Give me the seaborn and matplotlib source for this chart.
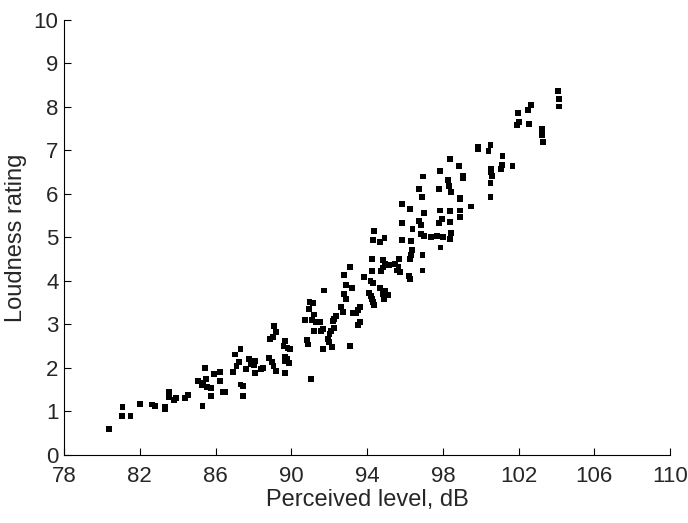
import matplotlib
matplotlib.use("Agg")
import matplotlib.pyplot as plt
import seaborn as sns
import pandas as pd

# perceived level (dB) and loudness rating
level = [
    80.40, 81.09, 81.06, 81.51, 82.01, 82.66, 82.82, 83.31, 83.35, 83.55, 83.55, 83.79, 83.93, 84.41, 84.57,
    85.06, 85.27, 85.35, 85.31, 85.77, 85.77, 85.56, 85.52, 85.45, 85.91,
    86.23, 86.26, 86.37, 86.48, 86.90, 87.11, 87.25, 87.04, 87.32, 87.32,
    87.43, 87.43, 87.60, 87.78, 87.85, 88.07, 88.03, 88.10, 88.38, 88.52,
    88.84, 88.98, 89.06, 89.20, 88.86, 89.03, 89.21, 89.11,
    89.69, 89.59, 89.80, 89.94, 89.66, 89.80, 89.69, 89.90, 89.69,
    93.08, 92.76, 93.86, 94.28, 94.74, 94.85, 94.95, 95.17, 94.18, 94.32,
    92.87, 93.19, 91.74, 94.67, 94.95, 95.13, 94.85, 94.88, 94.10, 94.21,
    94.28, 94.32, 94.35, 92.80, 92.87, 90.96, 91.17, 90.93, 92.62, 92.72,
    93.65, 93.51, 93.40, 93.26, 91.21, 90.72, 91.10, 91.28, 91.53, 92.34,
    92.24, 92.20, 92.27, 93.65, 93.51, 91.21, 91.56, 91.67, 92.09, 92.02,
    91.95, 91.99, 90.82, 90.86, 91.67, 92.13, 93.12, 91.03,
    94.37, 94.33, 94.69, 94.92, 94.27, 94.85,
    96.97, 97.85, 98.27, 98.34, 98.45, 98.91, 96.72, 96.90, 97.81, 95.84,
    96.29, 97.00, 97.85, 98.38, 98.91, 97.95, 98.91, 95.84, 96.75, 96.86,
    96.40, 97.81, 98.38, 96.83, 97.00, 97.36, 97.71, 97.99, 98.38, 98.45,
    95.84, 96.33, 97.88, 96.37, 96.33, 96.29, 96.93, 95.69, 95.48, 95.66,
    95.59, 95.73, 96.22, 96.29, 96.93,
    98.40, 98.85, 99.07, 99.07,
    99.88, 99.85, 100.52, 100.41, 101.15, 101.11, 101.08, 101.68,
    100.55, 100.55, 100.58, 100.52, 98.93, 100.52, 99.49,
    102.65, 102.51, 101.98, 102.01, 101.91, 102.55, 103.25, 103.25, 103.29, 104.10, 104.14, 104.14,
]
rating = [
    0.60, 1.10, 0.89, 0.90, 1.17, 1.16, 1.13, 1.11, 1.06, 1.45, 1.33, 1.26, 1.31, 1.31, 1.37,
    1.71, 1.60, 1.65, 1.13, 1.36, 1.53, 1.57, 1.74, 2.00, 1.86,
    1.91, 1.71, 1.45, 1.45, 1.91, 2.05, 2.14, 2.31, 2.44, 1.62,
    1.59, 1.36, 1.98, 2.20, 2.08, 2.17, 2.06, 1.88, 1.98, 2.00,
    2.23, 2.14, 2.05, 1.94, 2.66, 2.72, 2.82, 2.96,
    2.61, 2.51, 2.46, 2.44, 2.26, 2.21, 2.15, 2.12, 1.89,
    4.33, 4.13, 4.09, 4.22, 4.22, 4.31, 4.39, 4.37, 3.99, 3.95,
    3.90, 3.84, 3.78, 3.84, 3.78, 3.67, 3.69, 3.58, 3.73, 3.66,
    3.59, 3.52, 3.44, 3.69, 3.58, 3.52, 3.50, 3.35, 3.40, 3.29,
    3.40, 3.33, 3.27, 3.26, 3.23, 3.10, 3.10, 3.06, 3.06, 3.20,
    3.12, 3.07, 2.92, 3.06, 2.98, 2.84, 2.86, 2.89, 2.84, 2.78,
    2.67, 2.60, 2.64, 2.54, 2.43, 2.48, 2.51, 1.75,
    5.14, 4.94, 4.90, 4.99, 4.51, 4.48,
    6.40, 6.52, 6.31, 6.18, 6.05, 5.89, 6.12, 5.92, 6.12, 5.77,
    5.65, 5.56, 5.62, 5.60, 5.62, 5.43, 5.46, 5.34, 5.37, 5.28,
    5.20, 5.33, 5.36, 5.08, 5.03, 5.02, 5.03, 5.00, 4.97, 5.10,
    4.94, 4.91, 4.77, 4.71, 4.59, 4.51, 4.59, 4.51, 4.39, 4.33,
    4.24, 4.21, 4.12, 4.05, 4.24,
    6.80, 6.64, 6.42, 6.36,
    7.09, 7.04, 7.13, 6.98, 6.87, 6.67, 6.57, 6.64,
    6.58, 6.51, 6.41, 6.25, 5.91, 5.92, 5.71,
    8.04, 7.93, 7.85, 7.66, 7.58, 7.61, 7.50, 7.35, 7.20, 8.36, 8.18, 8.01,
]

x_ticks = [78, 82, 86, 90, 94, 98, 102, 106, 110]
y_ticks = list(range(0, 11))

df = pd.DataFrame({"level": level, "rating": rating})

sns.set_style("ticks")
plt.rcParams["font.family"] = ["Liberation Sans", "DejaVu Sans"]

fig = plt.figure(figsize=(6.88, 5.23), dpi=100)
ax = fig.add_axes([0.093, 0.130, 0.881, 0.832])

sns.scatterplot(data=df, x="level", y="rating", marker="s", s=18,
                color="black", edgecolor="none", linewidth=0, ax=ax)

ax.set_xlim(78, 110)
ax.set_ylim(0, 10)
ax.set_xticks(x_ticks)
ax.set_yticks(y_ticks)
ax.tick_params(direction="in", length=5, width=0.8, labelsize=16, color="black")
ax.tick_params(axis="x", pad=8)
ax.tick_params(axis="y", pad=4)
ax.set_xlabel("Perceived level, dB", fontsize=17, labelpad=1)
ax.set_ylabel("Loudness rating", fontsize=17, labelpad=5)
for s in ["left", "bottom"]:
    ax.spines[s].set_color("black")
    ax.spines[s].set_linewidth(0.8)
sns.despine(ax=ax)

fig.savefig("out.png", dpi=100)
